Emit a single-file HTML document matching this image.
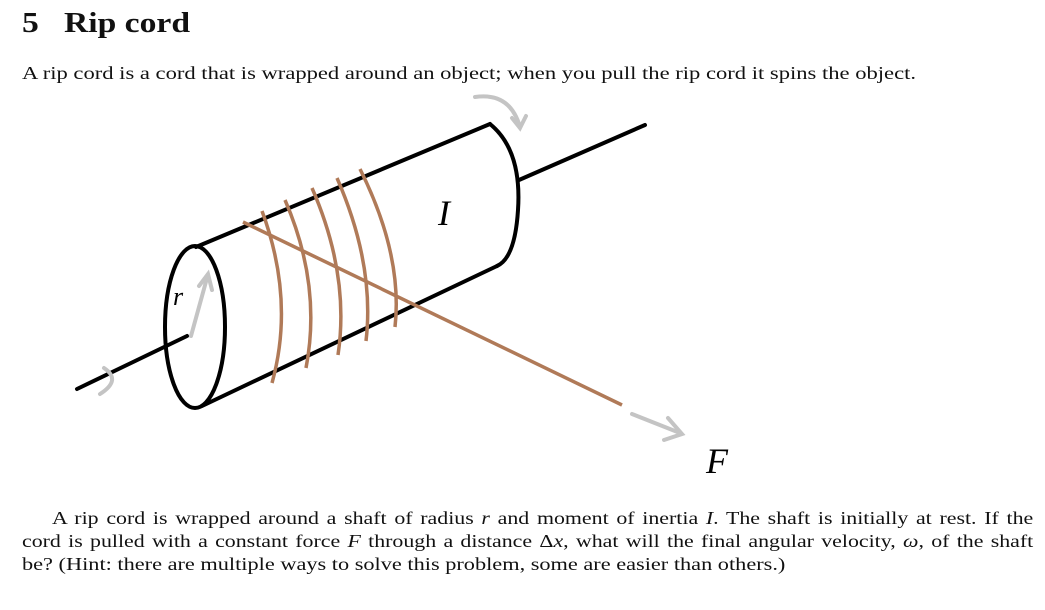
<!DOCTYPE html>
<html><head><meta charset="utf-8"><style>
body{margin:0;width:1045px;height:610px;background:#fff;font-family:"Liberation Serif",serif;color:#111;position:relative;overflow:hidden}
.t{position:absolute;white-space:nowrap;transform-origin:0 0}
.l{position:absolute;font-size:17.5px;line-height:23px;text-align:justify;text-align-last:justify;white-space:nowrap;transform-origin:0 0;transform:scaleX(1.25)}
</style></head><body>
<div class="t" style="left:22px;top:8px;font-size:28px;font-weight:bold;transform:scaleX(1.2)">5&nbsp;&nbsp;&nbsp;Rip cord</div>
<div class="t" style="left:22px;top:63px;font-size:17.5px;transform:scaleX(1.29)">A rip cord is a cord that is wrapped around an object; when you pull the rip cord it spins the object.</div>
<svg style="position:absolute;left:0;top:0" width="1045" height="610">
<g fill="none" stroke="#000" stroke-width="4" stroke-linecap="round">
<line x1="77" y1="389" x2="187" y2="336"/>
<line x1="519" y1="180" x2="645" y2="125"/>
<line x1="196" y1="247" x2="490" y2="124"/>
<line x1="202" y1="406" x2="497" y2="266"/>
<path d="M490,124 Q522,150 518,210 Q515,258 497,266"/>
<ellipse cx="195" cy="327" rx="30" ry="81"/>
</g>
<g fill="none" stroke="#b07a58" stroke-width="3.5">
<path d="M262,211 Q295,300 272,383"/>
<path d="M285,200 Q322,285 306,368"/>
<path d="M312,188 Q350,275 338,355"/>
<path d="M337,178 Q375,265 366,341"/>
<path d="M360,169 Q403,255 395,327"/>
<line x1="243" y1="222" x2="622" y2="405"/>
</g>
<g fill="none" stroke="#c4c4c4" stroke-width="4" stroke-linecap="round">
<path d="M475,97 Q510,92 520,127"/><path d="M512,118 L520,128 L526,116"/>
<line x1="632" y1="414" x2="680" y2="433"/><path d="M668,418 L682,434 L664,440"/>
<line x1="191" y1="336" x2="207" y2="278"/><path d="M199,286 L208,274 L212,290"/>
<path d="M104,368 Q122,380 100,394"/>
</g>
<text x="438" y="225" font-family="Liberation Serif" font-style="italic" font-size="36">I</text>
<text x="173" y="305" font-family="Liberation Serif" font-style="italic" font-size="26">r</text>
<text x="706" y="473" font-family="Liberation Serif" font-style="italic" font-size="36">F</text>
</svg>
<div class="l" style="top:507px;left:52px;width:785px">A rip cord is wrapped around a shaft of radius <i>r</i> and moment of inertia <i>I</i>. The shaft is initially at rest. If the</div>
<div class="l" style="top:530px;left:22px;width:809px">cord is pulled with a constant force <i>F</i> through a distance Δ<i>x</i>, what will the final angular velocity, <i>ω</i>, of the shaft</div>
<div class="t" style="left:22px;top:553px;font-size:17.5px;line-height:23px;transform:scaleX(1.275)">be? (Hint: there are multiple ways to solve this problem, some are easier than others.)</div>
</body></html>
